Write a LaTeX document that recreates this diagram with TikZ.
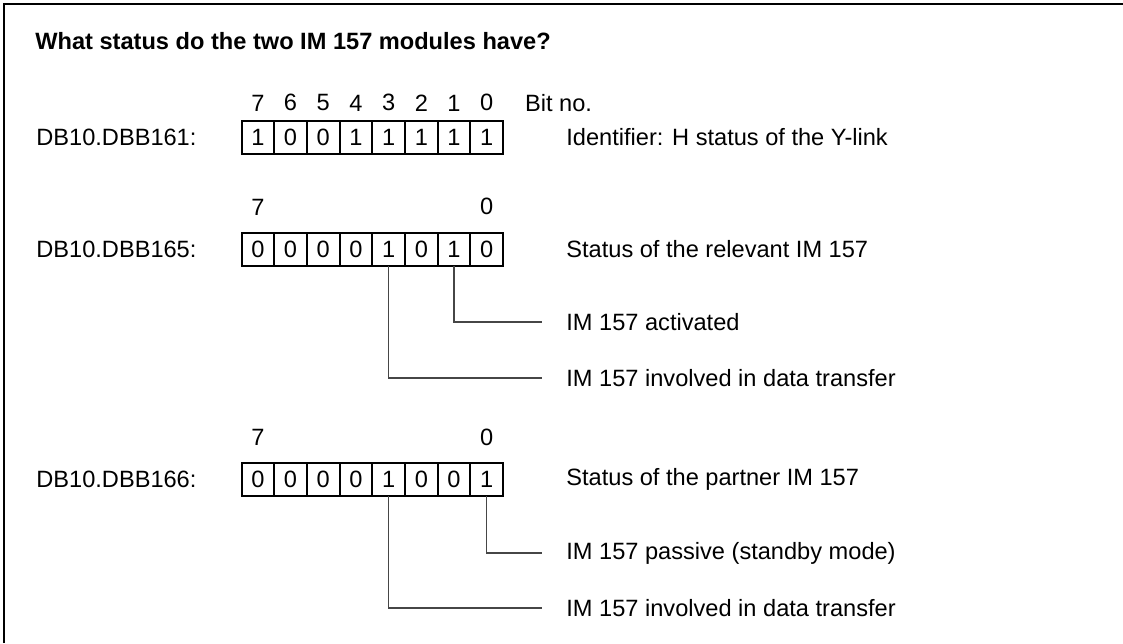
\documentclass[tikz,border=0pt]{standalone}
\usepackage{fontspec}
\setmainfont{Liberation Sans}
\definecolor{mygray}{RGB}{70,70,70}
\usetikzlibrary{positioning,chains,fit}

\begin{document}
\begin{tikzpicture}[x=0.5pt,y=-0.5pt,
  every node/.style={font=\fontsize{11.8}{14}\selectfont},
  bitnode/.style={draw,line width=0.5pt,minimum width=15.85pt,minimum height=16pt,inner sep=0pt},
  every fit/.style={draw,line width=1pt,inner sep=0pt},
  numnode/.style={inner sep=0pt},
  txtnode/.style={anchor=west,inner sep=0pt},
  lead/.style={mygray,line width=0.6pt,shorten >=12pt}
  ]
  \useasboundingbox (0,0) rectangle (1123,643);

  % the frame
  \draw[line width=1pt] (4,643) -- (4,4) -- (1123,4);

  % the question
  \node[txtnode,font=\fontsize{11.8}{14}\selectfont\bfseries] (title) at (35,41) {What status do the two IM 157 modules have?};

  % the byte DB10.DBB161
  \begin{scope}[shift={(257.85,137)},start chain=going right,node distance=0pt]
  \foreach \v [count=\i from 0] in {1,0,0,1,1,1,1,1} {
  \pgfmathtruncatemacro\b{7-\i}
  \node[bitnode,on chain] (ra\b) {\v};
  \node[numnode,above=4.5pt of ra\b] (ha\b) {\b};
  }
  \end{scope}
  \node[fit=(ra7) (ra0)] (byteA) {};
  \node[txtnode] (dbA) at (36,137) {DB10.DBB161:};
  \node[txtnode,right=15.5pt of ha0] (bitno) {Bit no.};
  \node[txtnode] (ident) at (566,137) {Identifier: H status of the Y-link};

  % the byte DB10.DBB165
  \begin{scope}[shift={(257.85,249)},start chain=going right,node distance=0pt]
  \foreach \v [count=\i from 0] in {0,0,0,0,1,0,1,0} {
  \pgfmathtruncatemacro\b{7-\i}
  \node[bitnode,on chain] (rb\b) {\v};
  }
  \end{scope}
  \node[fit=(rb7) (rb0)] (byteB) {};
  \node[numnode,above=8.5pt of rb7] (hb7) {7};
  \node[numnode,above=8.5pt of rb0] (hb0) {0};
  \node[txtnode] (dbB) at (36,249) {DB10.DBB165:};
  \node[txtnode] (relevant) at (566,249) {Status of the relevant IM 157};
  \node[txtnode] (activated) at (566,322) {IM 157 activated};
  \node[txtnode] (transferB) at (566,378) {IM 157 involved in data transfer};

  % the byte DB10.DBB166
  \begin{scope}[shift={(257.85,479.5)},start chain=going right,node distance=0pt]
  \foreach \v [count=\i from 0] in {0,0,0,0,1,0,0,1} {
  \pgfmathtruncatemacro\b{7-\i}
  \node[bitnode,on chain] (rc\b) {\v};
  }
  \end{scope}
  \node[fit=(rc7) (rc0)] (byteC) {};
  \node[numnode,above=8.5pt of rc7] (hc7) {7};
  \node[numnode,above=8.5pt of rc0] (hc0) {0};
  \node[txtnode] (dbC) at (36,479.5) {DB10.DBB166:};
  \node[txtnode] (partner) at (566,479.5) {Status of the partner IM 157};
  \node[txtnode] (passive) at (566,553) {IM 157 passive (standby mode)};
  \node[txtnode] (transferC) at (566,608) {IM 157 involved in data transfer};

  % the leads
  \draw[lead] (rb1.south) |- (activated.west);
  \draw[lead] (rb3.south) |- (transferB.west);
  \draw[lead] (rc0.south) |- (passive.west);
  \draw[lead] (rc3.south) |- (transferC.west);
\end{tikzpicture}
\end{document}
